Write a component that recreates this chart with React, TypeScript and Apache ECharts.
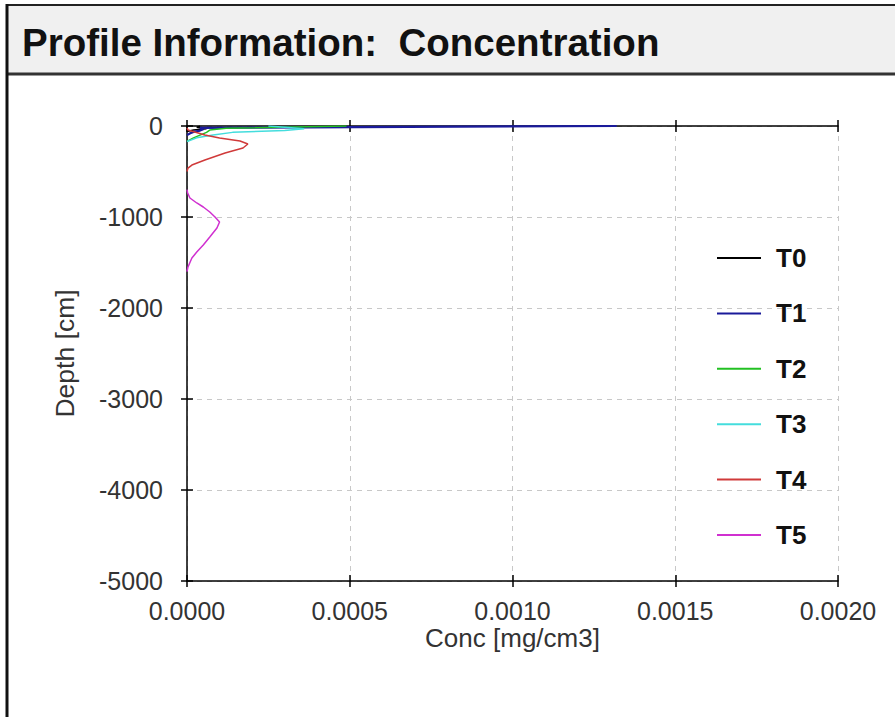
import React, { useEffect, useRef } from "react";
import * as echarts from "echarts";

const seriesNames = ["T0", "T1", "T2", "T3", "T4", "T5"];
const seriesColors = ["#000000", "#1a1a9a", "#22c022", "#44dddd", "#d03a3a", "#d030d0"];

const xTicks = [0, 0.0005, 0.001, 0.0015, 0.002];
const yTicks = [0, -1000, -2000, -3000, -4000, -5000];

const t0Depth = [0, -15, -30, -45, -60];
const t0Conc = [0.00004, 0.00003, 0.00006, 0.00002, 0];

const t1Depth = [0, -20, -35, -50, -65, -80, -100];
const t1Conc = [0.00132, 0.00004, 0.00005, 0.00004, 0.00002, 0.00001, 0];

const t2Depth = [0, -25, -45, -70, -100, -130, -170];
const t2Conc = [0.00049, 0.00012, 0.00007, 0.00006, 0.00004, 0.00002, 0];

const t3Depth = [0, -30, -50, -70, -100, -130, -170];
const t3Conc = [0.00025, 0.00036, 0.0003, 0.00014, 0.00008, 0.00003, 0];

const t4Depth = [-20, -44, -99, -132, -165, -198, -242, -297, -374, -429, -462, -500];
const t4Conc = [0, 0.000003, 0.000055, 0.0001, 0.000163, 0.000187, 0.000172, 0.000117, 0.000055, 0.000015, 0.000003, 0];

const t5Depth = [-700, -736, -791, -846, -890, -945, -1000, -1055, -1121, -1220, -1308, -1385, -1451, -1549, -1600];
const t5Conc = [0, 0.000002, 0.000009, 0.00003, 0.00005, 0.00007, 0.000086, 0.0001, 0.000092, 0.00007, 0.00005, 0.00003, 0.000015, 0.000003, 0];

const depths = [t0Depth, t1Depth, t2Depth, t3Depth, t4Depth, t5Depth];
const concs = [t0Conc, t1Conc, t2Conc, t3Conc, t4Conc, t5Conc];

const FONT = '"Liberation Sans", Arial, sans-serif';
const W = 895;
const H = 717;

export default function App() {
  const ref = useRef<HTMLDivElement>(null);

  useEffect(() => {
    if (!ref.current) return;
    const chart = echarts.init(ref.current, undefined, { renderer: "svg" });
    const xMin = xTicks[0];
    const xMax = xTicks[xTicks.length - 1];
    const xInt = xTicks[1] - xTicks[0];
    const yMin = yTicks[yTicks.length - 1];
    const yMax = yTicks[0];
    const yInt = yTicks[0] - yTicks[1];

    const baseX = { type: "value", min: xMin, max: xMax, interval: xInt };
    const baseY = { type: "value", min: yMin, max: yMax, interval: yInt };
    const axisLineStyle = { color: "#000", width: 1.5 };

    const series = seriesNames.map((name, i) => ({
      name,
      type: "line",
      xAxisIndex: 0,
      yAxisIndex: 0,
      symbol: "none",
      showSymbol: false,
      lineStyle: { color: seriesColors[i], width: i === 1 ? 2.2 : 1.5 },
      itemStyle: { color: seriesColors[i] },
      data: depths[i].map((d, j) => [concs[i][j], d]),
      z: 3,
    }));

    chart.setOption({
      animation: false,
      backgroundColor: "#ffffff",
      textStyle: { fontFamily: FONT },
      grid: { left: 187, top: 126, right: W - 838, bottom: H - 581, containLabel: false },
      graphic: [
        { type: "rect", shape: { x: 7, y: 6, width: W - 7, height: 68 }, style: { fill: "#f0f0f0" }, z: 0 },
        { type: "line", shape: { x1: 6, y1: 5, x2: W, y2: 5 }, style: { stroke: "#222", lineWidth: 2 } },
        { type: "line", shape: { x1: 6, y1: 74, x2: W, y2: 74 }, style: { stroke: "#333", lineWidth: 3 } },
        { type: "line", shape: { x1: 7, y1: 4, x2: 7, y2: H }, style: { stroke: "#111", lineWidth: 3 } },
        {
          type: "text",
          x: 22,
          y: 42,
          style: {
            text: "Profile Information:  Concentration",
            font: `bold 38.5px ${FONT}`,
            fill: "#111",
            verticalAlign: "middle",
          },
        },
      ],
      legend: {
        orient: "vertical",
        left: 716,
        top: 245,
        padding: 0,
        itemWidth: 44,
        itemHeight: 20,
        itemGap: 29.4,
        data: seriesNames,
        itemStyle: { opacity: 0 },
        textStyle: {
          fontFamily: FONT,
          fontSize: 26,
          fontWeight: "bold",
          color: "#111",
          padding: [0, 0, 0, 10],
        },
      },
      xAxis: [
        {
          ...baseX,
          position: "bottom",
          name: "Conc [mg/cm3]",
          nameLocation: "middle",
          nameGap: 44,
          nameMoveOverlap: false,
          nameTextStyle: { fontFamily: FONT, fontSize: 26, color: "#333" },
          axisLine: { show: true, onZero: false, lineStyle: axisLineStyle },
          axisTick: { show: true, inside: false, length: 6, lineStyle: axisLineStyle },
          axisLabel: {
            show: true,
            fontFamily: FONT,
            fontSize: 25,
            color: "#333",
            margin: 17,
            formatter: (v: number) => v.toFixed(4),
          },
          splitLine: { show: true, lineStyle: { color: "#c8c8c8", type: [5, 5], width: 1 } },
        },
        {
          ...baseX,
          position: "bottom",
          axisLine: { show: false, onZero: false },
          axisTick: { show: true, inside: true, length: 6, lineStyle: axisLineStyle },
          axisLabel: { show: false },
          splitLine: { show: false },
        },
        {
          ...baseX,
          position: "top",
          axisLine: { show: true, onZero: false, lineStyle: axisLineStyle },
          axisTick: { show: true, inside: true, length: 6, lineStyle: axisLineStyle },
          axisLabel: { show: false },
          splitLine: { show: false },
        },
        {
          ...baseX,
          position: "top",
          axisLine: { show: false, onZero: false },
          axisTick: { show: true, inside: false, length: 6, lineStyle: axisLineStyle },
          axisLabel: { show: false },
          splitLine: { show: false },
        },
      ],
      yAxis: [
        {
          ...baseY,
          position: "left",
          name: "Depth [cm]",
          nameLocation: "middle",
          nameGap: 109,
          nameMoveOverlap: false,
          nameTextStyle: { fontFamily: FONT, fontSize: 26.5, color: "#333" },
          axisLine: { show: true, onZero: false, lineStyle: axisLineStyle },
          axisTick: { show: true, inside: false, length: 6, lineStyle: axisLineStyle },
          axisLabel: {
            show: true,
            fontFamily: FONT,
            fontSize: 25,
            color: "#333",
            margin: 24,
            formatter: (v: number) => String(v),
          },
          splitLine: { show: true, lineStyle: { color: "#c8c8c8", type: [5, 5], width: 1 } },
        },
        {
          ...baseY,
          position: "left",
          axisLine: { show: false, onZero: false },
          axisTick: { show: true, inside: true, length: 6, lineStyle: axisLineStyle },
          axisLabel: { show: false },
          splitLine: { show: false },
        },
      ],
      series,
    });

    return () => {
      chart.dispose();
    };
  }, []);

  return (
    <div style={{ position: "fixed", left: 0, top: 0, width: W, height: H, background: "#fff" }}>
      <div ref={ref} style={{ width: W, height: H }} />
    </div>
  );
}
